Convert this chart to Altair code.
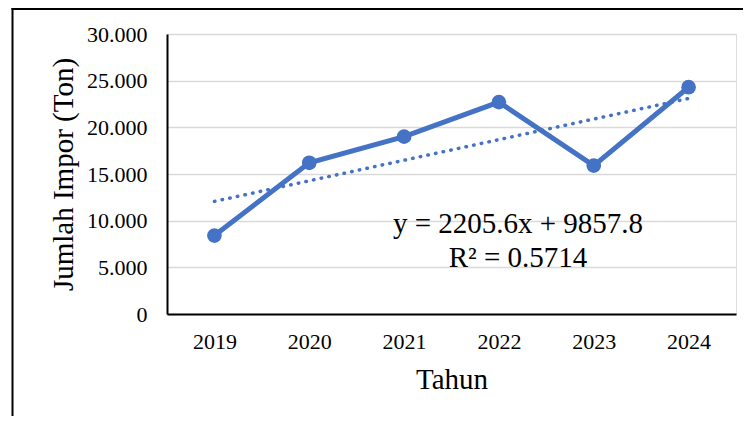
import altair as alt
import pandas as pd

years = ["2019", "2020", "2021", "2022", "2023", "2024"]
imports = [8400, 16200, 19000, 22700, 15900, 24300]
slope = 2205.6
intercept = 9857.8
r2 = 0.5714
y_ticks = [0, 5000, 10000, 15000, 20000, 25000, 30000]

eq_text = f"y = {slope}x + {intercept}"
r2_text = f"R\u00b2 = {r2}"

df = pd.DataFrame({"Tahun": years, "Impor": imports, "idx": list(range(1, len(years) + 1))})
one = pd.DataFrame({"a": [0]})

FONT = "Liberation Serif"
BLUE = "#4472C4"

x_enc = alt.X(
    "Tahun:O",
    scale=alt.Scale(type="point", padding=0.5),
    axis=alt.Axis(
        title="Tahun", labelAngle=0, labelFontSize=22, labelFont=FONT, labelColor="black",
        labelBaseline="alphabetic", labelPadding=34, ticks=False, tickSize=0,
        domainColor="black", domainWidth=2, grid=False,
        titleFont=FONT, titleFontSize=29, titleFontWeight="normal", titleColor="black",
        titleBaseline="alphabetic", titleX=284.5, titleY=74, titleAnchor="middle", titleAlign="center",
    ),
)
y_enc = alt.Y(
    "Impor:Q",
    scale=alt.Scale(domain=[0, 30000], nice=False),
    axis=alt.Axis(
        title="Jumlah Impor (Ton)", values=y_ticks,
        labelExpr="replace(format(datum.value, ','), ',', '.')",
        labelFontSize=22, labelFont=FONT, labelColor="black", labelPadding=20,
        ticks=False, tickSize=0, domainColor="black", domainWidth=2,
        grid=True, gridColor="#d9d9d9", gridWidth=1.5,
        titleFont=FONT, titleFontSize=29, titleFontWeight="normal", titleColor="black",
        titleAngle=270, titleBaseline="alphabetic", titleX=-95, titleY=140, titleAlign="center",
    ),
)

base = alt.Chart(df)

line = base.mark_line(color=BLUE, strokeWidth=5).encode(x=x_enc, y=y_enc)

trend = base.transform_calculate(
    trend=f"{slope} * datum.idx + {intercept}"
).mark_line(
    color=BLUE, strokeWidth=3.5, strokeDash=[0.5, 7.3], strokeCap="round"
).encode(x=alt.X("Tahun:O"), y=alt.Y("trend:Q"))

pts = base.mark_circle(color=BLUE, size=215, opacity=1).encode(x="Tahun:O", y="Impor:Q")

eq = alt.Chart(one).mark_text(
    font=FONT, fontSize=29, color="black", align="center", baseline="alphabetic"
).encode(x=alt.value(351), y=alt.value(199), text=alt.value(eq_text))
r2t = alt.Chart(one).mark_text(
    font=FONT, fontSize=29, color="black", align="center", baseline="alphabetic"
).encode(x=alt.value(351), y=alt.value(233), text=alt.value(r2_text))

border_left = alt.Chart(one).mark_rule(color="black", strokeWidth=2).encode(
    x=alt.value(-154.5), y=alt.value(-26), y2=alt.value(382)
)
border_top = alt.Chart(one).mark_rule(color="black", strokeWidth=2).encode(
    x=alt.value(-155.5), x2=alt.value(576), y=alt.value(-25)
)

chart = alt.layer(line, trend, pts, eq, r2t, border_left, border_top).properties(
    width=569, height=280,
    autosize=alt.AutoSizeParams(type="none"),
    padding={"left": 159, "top": 26, "right": 7, "bottom": 102},
).configure_view(stroke=None).configure(background="white").configure_axis(
    labelFont=FONT, titleFont=FONT
)

chart.save("out.html", embed_options={"renderer": "svg", "actions": False})
